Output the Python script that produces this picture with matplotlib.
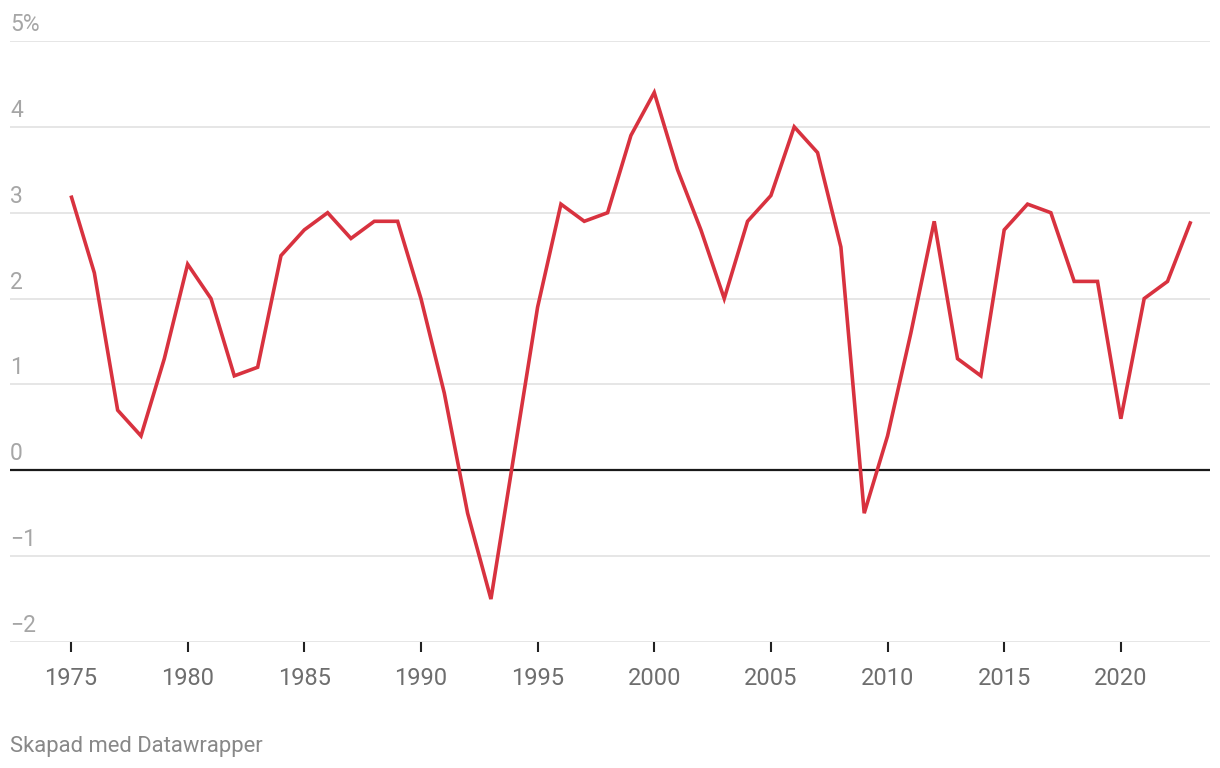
import matplotlib
matplotlib.use("Agg")
import matplotlib.pyplot as plt
from matplotlib.transforms import offset_copy

years = list(range(1975, 2024))
growth = [3.2, 2.3, 0.7, 0.4, 1.3, 2.4, 2.0, 1.1, 1.2, 2.5,
          2.8, 3.0, 2.7, 2.9, 2.9, 2.0, 0.9, -0.5, -1.5, 0.2,
          1.9, 3.1, 2.9, 3.0, 3.9, 4.4, 3.5, 2.8, 2.0, 2.9,
          3.2, 4.0, 3.7, 2.6, -0.5, 0.4, 1.6, 2.9, 1.3, 1.1,
          2.8, 3.1, 3.0, 2.2, 2.2, 0.6, 2.0, 2.2, 2.9]
x_ticks = [1975, 1980, 1985, 1990, 1995, 2000, 2005, 2010, 2015, 2020]
y_ticks = [-2, -1, 0, 1, 2, 3, 4, 5]
y_labels = ["\u22122", "\u22121", "0", "1", "2", "3", "4", "5%"]
footer = "Skapad med Datawrapper"

plt.rcParams['font.family'] = ['Roboto', 'DejaVu Sans']

W, H = 1220, 768
fig = plt.figure(figsize=(W / 100, H / 100), dpi=100)
left, right = 10 / W, 1210 / W
bottom, top = (H - 642) / H, (H - 41) / H
ax = fig.add_axes([left, bottom, right - left, top - bottom])

px_per_year = 23.33
x0 = 1975 - (71 - 10) / px_per_year
x1 = 1975 + (1210 - 71) / px_per_year
ax.set_xlim(x0, x1)
ax.set_ylim(-2, 5)

for s in ax.spines.values():
    s.set_visible(False)

for yv in y_ticks:
    if yv == 0:
        continue
    ax.axhline(yv, color='#e6e6e6', lw=1.4, zorder=1)
ax.axhline(0, color='#1a1a1a', lw=1.6, zorder=3)

ax.plot(years, growth, color='#d8323f', lw=2.6, zorder=4,
        solid_joinstyle='miter', solid_capstyle='butt')

ax.set_yticks([])
ax.set_xticks(x_ticks)
ax.set_xticklabels([str(v) for v in x_ticks], fontsize=17, color='#6e6e6e')
ax.tick_params(axis='x', length=7, width=1.5, color='#222222', pad=11,
               direction='out')

trans = offset_copy(ax.get_yaxis_transform(), fig=fig, x=0, y=10, units='dots')
for yv, lab in zip(y_ticks, y_labels):
    ax.text(0, yv, lab, transform=trans, ha='left', va='baseline',
            fontsize=16.5, color='#a6a6a6')

fig.text(10 / W, 1 - 752 / H, footer, ha='left', va='baseline',
         fontsize=15.8, color='#888888')

fig.savefig('out.png', dpi=100, facecolor='white')
